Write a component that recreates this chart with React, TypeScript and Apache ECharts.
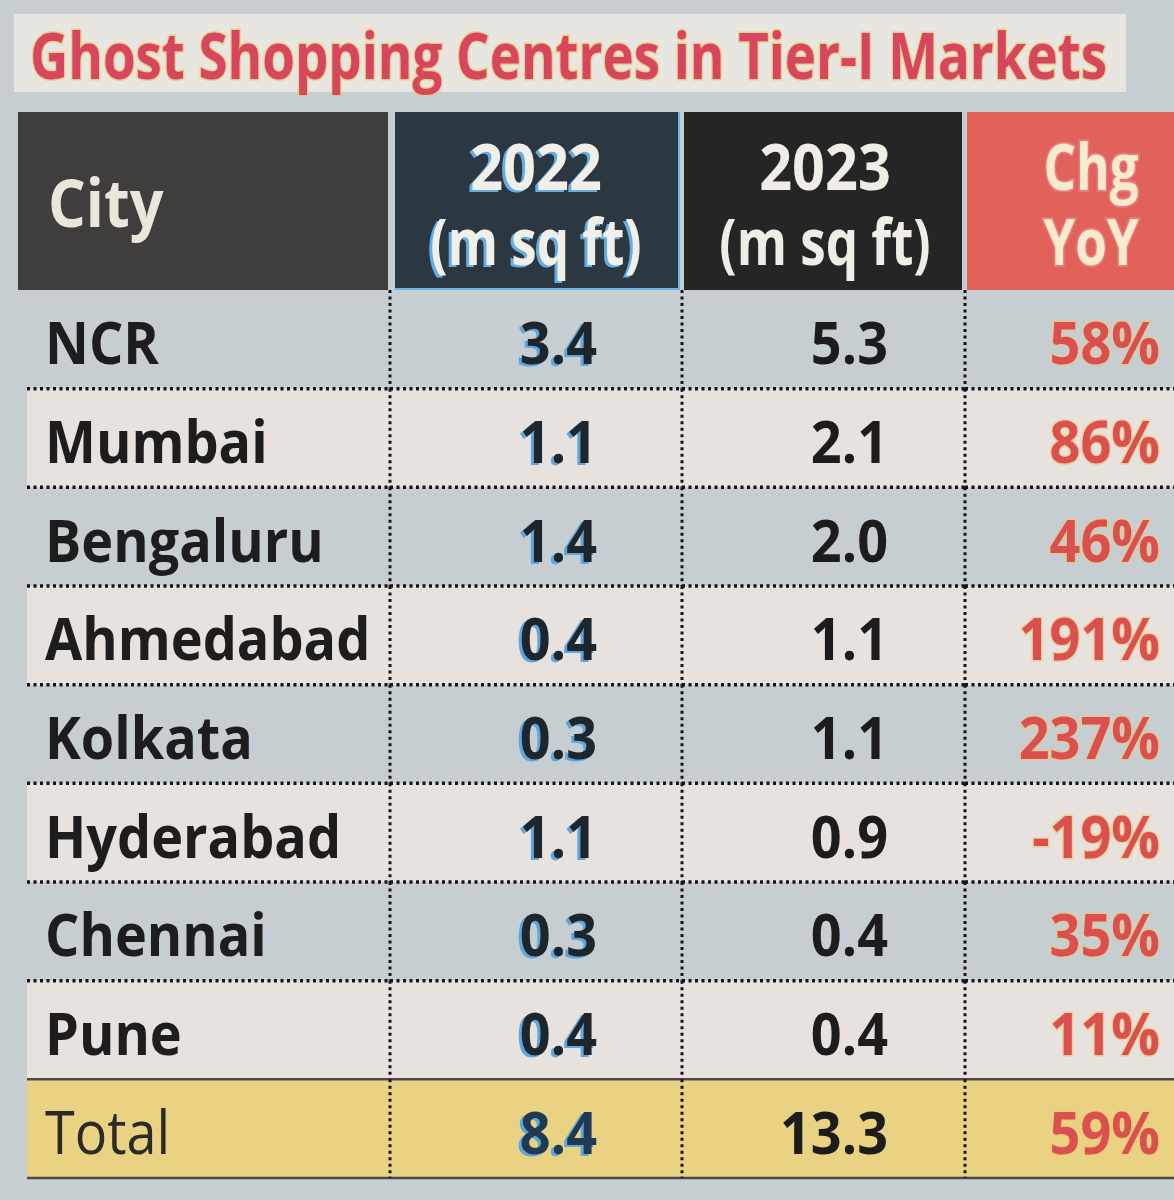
import React, { useEffect, useRef } from 'react';
import * as echarts from 'echarts';

// ---- data ----
const TITLE = 'Ghost Shopping Centres in Tier-I Markets';
const HEADERS = ['City', '2022\n(m sq ft)', '2023\n(m sq ft)', 'Chg\nYoY'];
const CITIES = ['NCR', 'Mumbai', 'Bengaluru', 'Ahmedabad', 'Kolkata', 'Hyderabad', 'Chennai', 'Pune'];
const AREA_2022 = [3.4, 1.1, 1.4, 0.4, 0.3, 1.1, 0.3, 0.4];
const AREA_2023 = [5.3, 2.1, 2.0, 1.1, 1.1, 0.9, 0.4, 0.4];
const CHG_YOY = [58, 86, 46, 191, 237, -19, 35, 11];
const TOTAL_LABEL = 'Total';
const TOTAL_2022 = 8.4;
const TOTAL_2023 = 13.3;
const TOTAL_CHG = 59;

// ---- layout / style ----
const W = 1174;
const H = 1200;
const FONT = 'Open Sans';
const COL_EDGES = [27, 390, 682, 965, 1174];
const HEADER_CELLS = [[18, 388], [395, 679], [684, 962], [967, 1174]];
const HEADER_FILLS = ['#3f3e3d', '#2c3841', '#252525', '#e0625a'];
const HEADER_CX = [0, 536, 825, 1091];
const TEXT_ANCHOR = [45, 597, 888, 1160];
const SCALE_X = 0.9;

const ROWS = [...CITIES, TOTAL_LABEL];

function cellText(c: number, r: number): string {
  const isTotal = r === CITIES.length;
  if (c === 0) return ROWS[r];
  if (c === 1) return (isTotal ? TOTAL_2022 : AREA_2022[r]).toFixed(1);
  if (c === 2) return (isTotal ? TOTAL_2023 : AREA_2023[r]).toFixed(1);
  return `${isTotal ? TOTAL_CHG : CHG_YOY[r]}%`;
}

export default function App() {
  const ref = useRef<HTMLDivElement>(null);
  useEffect(() => {
    if (!ref.current) return;
    const chart = echarts.init(ref.current, undefined, { renderer: 'svg' });

    const bodyData: number[][] = [];
    for (let r = 0; r < ROWS.length; r++) for (let c = 0; c < 4; c++) bodyData.push([c, r]);
    const headerData = HEADERS.map((_, c) => [c, 0]);

    const renderHeader = (params: any, api: any) => {
      const c = api.value(0);
      const center = api.coord([0, 0]);
      const bandH = api.size([0, 1])[1];
      const top = center[1] - bandH / 2;
      const [x0, x1] = HEADER_CELLS[c];
      const children: any[] = [
        { type: 'rect', shape: { x: x0, y: top, width: x1 - x0, height: bandH }, style: { fill: HEADER_FILLS[c] } },
      ];
      const lines = HEADERS[c].split('\n');
      if (c === 0) {
        children.push({
          type: 'text', x: 48, y: center[1], scaleX: SCALE_X,
          style: { text: lines[0], fill: '#ebe6dc', fontSize: 66, fontFamily: FONT, fontWeight: 'bold', align: 'left', verticalAlign: 'middle' },
        });
      } else {
        const cx = HEADER_CX[c];
        const ys = [center[1] - 36, center[1] + 39];
        lines.forEach((t, i) => {
          const sx = c === 3 ? 0.8 : i === 0 ? SCALE_X : 0.8;
          const base = { text: t, fontSize: 64, fontFamily: FONT, fontWeight: 'bold', align: 'center', verticalAlign: 'middle' };
          if (c === 1) {
            children.push({ type: 'text', x: cx - 3, y: ys[i] + 2, scaleX: sx, style: { ...base, fill: '#63aee6' } });
            children.push({ type: 'text', x: cx, y: ys[i], scaleX: sx, style: { ...base, fill: '#f1efe8' } });
          } else if (c === 2) {
            children.push({ type: 'text', x: cx, y: ys[i], scaleX: sx, style: { ...base, fill: '#f0ede6' } });
          } else {
            children.push({ type: 'text', x: cx, y: ys[i], scaleX: sx, style: { ...base, fill: '#f8ebcc', stroke: 'rgba(236,140,150,0.55)', lineWidth: 4 } });
          }
        });
      }
      if (c === 1) {
        children.push({ type: 'line', shape: { x1: x1, y1: top, x2: x1, y2: top + bandH }, style: { stroke: '#6fb4e6', lineWidth: 2 } });
        children.push({ type: 'line', shape: { x1: x0, y1: top + bandH - 1, x2: x1, y2: top + bandH - 1 }, style: { stroke: '#6fb4e6', lineWidth: 2 } });
      }
      return { type: 'group', children };
    };

    const renderBody = (params: any, api: any) => {
      const c = api.value(0);
      const r = api.value(1);
      const center = api.coord([0, r]);
      const bandH = api.size([0, 1])[1];
      const top = center[1] - bandH / 2;
      const x0 = COL_EDGES[c];
      const x1 = COL_EDGES[c + 1];
      const isTotal = r === CITIES.length;
      const children: any[] = [];
      let bg: string | null = null;
      if (isTotal) bg = '#e9d383';
      else if (r % 2 === 1) bg = '#e7e2dd';
      if (bg) children.push({ type: 'rect', z2: 0, shape: { x: x0, y: top, width: x1 - x0, height: bandH }, style: { fill: bg } });

      const dotted = { stroke: '#141414', lineWidth: 3.5, lineDash: [3, 3.5] };
      const solid = { stroke: '#4a4a48', lineWidth: 2.5 };
      if (r > 0) {
        children.push({ type: 'line', z2: 10, shape: { x1: x0, y1: top, x2: x1, y2: top }, style: isTotal ? solid : dotted });
      }
      if (isTotal) {
        children.push({ type: 'line', z2: 10, shape: { x1: x0, y1: top + bandH, x2: x1, y2: top + bandH }, style: solid });
      }
      if (c > 0) {
        children.push({ type: 'line', z2: 10, shape: { x1: x0, y1: top, x2: x0, y2: top + bandH }, style: { ...dotted, lineWidth: 3 } });
      }

      const text = cellText(c, r);
      const ty = center[1] + 2;
      const base = { text, fontSize: 60, fontFamily: FONT, fontWeight: 'bold', verticalAlign: 'middle' };
      if (c === 0) {
        children.push({
          type: 'text', z2: 20, x: TEXT_ANCHOR[0], y: ty, scaleX: SCALE_X,
          style: { ...base, align: 'left', fill: isTotal ? '#2c2a26' : '#1d1d1d', fontWeight: isTotal ? 'normal' : 'bold' },
        });
      } else if (c === 1) {
        children.push({ type: 'text', z2: 19, x: TEXT_ANCHOR[1] - 3, y: ty + 2, scaleX: SCALE_X, style: { ...base, align: 'right', fill: '#5ea6dc' } });
        children.push({ type: 'text', z2: 20, x: TEXT_ANCHOR[1], y: ty, scaleX: SCALE_X, style: { ...base, align: 'right', fill: isTotal ? '#1f3a52' : '#1e262d' } });
      } else if (c === 2) {
        children.push({ type: 'text', z2: 20, x: TEXT_ANCHOR[2], y: ty, scaleX: SCALE_X, style: { ...base, align: 'right', fill: '#1c1c1c' } });
      } else {
        children.push({
          type: 'text', z2: 20, x: TEXT_ANCHOR[3], y: ty, scaleX: SCALE_X,
          style: { ...base, align: 'right', fill: '#d9504f', stroke: 'rgba(240,196,120,0.65)', lineWidth: 3 },
        });
      }
      return { type: 'group', children };
    };

    chart.setOption({
      animation: false,
      backgroundColor: '#c7ced1',
      grid: [
        { left: 0, right: 0, top: 112, height: 178 },
        { left: 0, right: 0, top: 290, bottom: 22 },
      ],
      xAxis: [
        { type: 'value', gridIndex: 0, min: 0, max: W, show: false },
        { type: 'value', gridIndex: 1, min: 0, max: W, show: false },
      ],
      yAxis: [
        { type: 'category', gridIndex: 0, data: ['header'], show: false },
        { type: 'category', gridIndex: 1, data: ROWS, inverse: true, show: false },
      ],
      graphic: [
        { type: 'rect', shape: { x: 14, y: 14, width: 1112, height: 78 }, style: { fill: '#e8e6e1' } },
        {
          type: 'text', x: 30, y: 54, scaleX: 0.825,
          style: {
            text: TITLE, fontSize: 64, fontFamily: FONT, fontWeight: 'bold', fill: '#d7465f',
            stroke: 'rgba(240,200,110,0.8)', lineWidth: 3, align: 'left', verticalAlign: 'middle',
          },
        },
      ],
      series: [
        { type: 'custom', xAxisIndex: 0, yAxisIndex: 0, renderItem: renderHeader, data: headerData, silent: true },
        { type: 'custom', xAxisIndex: 1, yAxisIndex: 1, renderItem: renderBody, data: bodyData, silent: true },
      ],
    });
    return () => chart.dispose();
  }, []);
  return <div ref={ref} style={{ position: 'absolute', left: 0, top: 0, width: W, height: H }} />;
}
